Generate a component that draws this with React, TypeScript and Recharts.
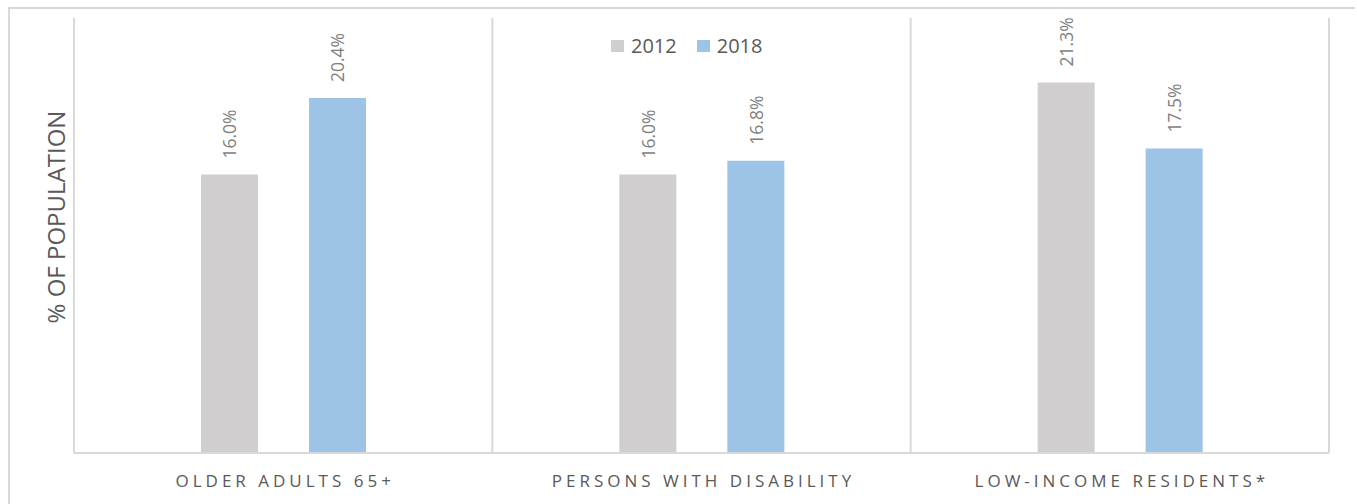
import {
  BarChart,
  Bar,
  XAxis,
  YAxis,
  CartesianGrid,
  Legend,
  LabelList,
} from "recharts";

const categories = ["OLDER ADULTS 65+", "PERSONS WITH DISABILITY", "LOW-INCOME RESIDENTS*"];
const values2012 = [16.0, 16.0, 21.3];
const values2018 = [20.4, 16.8, 17.5];
const seriesNames = ["2012", "2018"];
const seriesColors = ["#d0cece", "#9dc3e6"];
const yAxisTitle = "% OF POPULATION";

const data = categories.map((name, i) => ({
  name,
  y2012: values2012[i],
  y2018: values2018[i],
}));

const FONT = "'Open Sans', sans-serif";
const GRID = "#d9d9d9";

function BarValueLabel(props: any) {
  const { x, y, width, value } = props;
  const cx = x + width / 2;
  const ty = y - 16;
  return (
    <text
      x={cx}
      y={ty}
      transform={`rotate(-90 ${cx} ${ty})`}
      textAnchor="start"
      dominantBaseline="central"
      fontSize={17.5}
      fontFamily={FONT}
      fill="#7f7f7f"
    >
      {Number(value).toFixed(1)}%
    </text>
  );
}

function CategoryTick(props: any) {
  const { x, y, payload } = props;
  return (
    <text
      x={x + 2}
      y={y + 27}
      textAnchor="middle"
      dominantBaseline="central"
      fontSize={17}
      letterSpacing={4}
      fontFamily={FONT}
      fill="#595959"
    >
      {payload.value}
    </text>
  );
}

function LegendContent() {
  return (
    <div style={{ display: "flex", alignItems: "center", fontFamily: FONT }}>
      {seriesNames.map((s, i) => (
        <div key={s} style={{ display: "flex", alignItems: "center", marginRight: 20 }}>
          <span
            style={{
              display: "inline-block",
              width: 13,
              height: 12,
              background: seriesColors[i],
              marginRight: 7,
            }}
          />
          <span style={{ fontSize: 20, color: "#595959", lineHeight: "24px" }}>{s}</span>
        </div>
      ))}
    </div>
  );
}

function App() {
  return (
    <div
      style={{
        position: "absolute",
        left: 0,
        top: 0,
        width: 1357,
        height: 504,
        overflow: "hidden",
        background: "#fff",
      }}
    >
      <div
        style={{
          position: "absolute",
          left: 8,
          top: 7,
          width: 1347,
          height: 520,
          borderTop: `2px solid ${GRID}`,
          borderLeft: `2px solid ${GRID}`,
          boxSizing: "border-box",
        }}
      />
      <div style={{ position: "absolute", left: 0, top: 0 }}>
        <BarChart
          width={1357}
          height={504}
          data={data}
          margin={{ top: 18, right: 28, left: 74, bottom: 0 }}
          barSize={57}
          barGap={51}
        >
          <CartesianGrid
            horizontal={false}
            stroke={GRID}
            strokeWidth={2}
            verticalCoordinatesGenerator={({ offset }: any) => {
              const n = categories.length;
              return Array.from({ length: n + 1 }, (_, i) => offset.left + (offset.width * i) / n);
            }}
          />
          <XAxis
            dataKey="name"
            height={51}
            interval={0}
            tickLine={false}
            tickSize={0}
            tickMargin={0}
            axisLine={{ stroke: GRID, strokeWidth: 2 }}
            tick={<CategoryTick />}
          />
          <YAxis width={0} domain={[0, 25]} tick={false} axisLine={false} tickLine={false} />
          <Legend
            verticalAlign="middle"
            align="center"
            layout="horizontal"
            wrapperStyle={{ top: 34, left: 611, width: "auto" }}
            content={<LegendContent />}
          />
          <Bar dataKey="y2012" name={seriesNames[0]} fill={seriesColors[0]} isAnimationActive={false}>
            <LabelList dataKey="y2012" content={<BarValueLabel />} />
          </Bar>
          <Bar dataKey="y2018" name={seriesNames[1]} fill={seriesColors[1]} isAnimationActive={false}>
            <LabelList dataKey="y2018" content={<BarValueLabel />} />
          </Bar>
        </BarChart>
      </div>
      <svg
        width={80}
        height={504}
        style={{ position: "absolute", left: 0, top: 0, pointerEvents: "none" }}
      >
        <text
          x={55}
          y={217}
          transform="rotate(-90 55 217)"
          textAnchor="middle"
          dominantBaseline="central"
          fontSize={24}
          fontFamily={FONT}
          fill="#595959"
        >
          {yAxisTitle}
        </text>
      </svg>
    </div>
  );
}

export default App;
